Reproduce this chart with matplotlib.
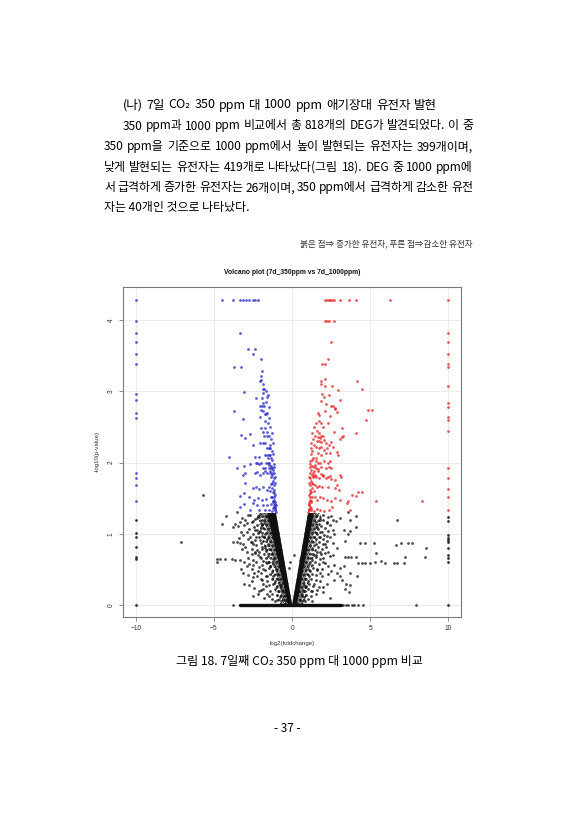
import numpy as np
import matplotlib
matplotlib.use('Agg')
import matplotlib.pyplot as plt

W, H = 571, 840
KR = ['Noto Sans CJK KR', 'DejaVu Sans']
AR = ['Liberation Sans', 'DejaVu Sans']

heading = "(나) 7일 CO₂ 350 ppm 대 1000 ppm 애기장대 유전자 발현"
body_lines = [
    "350 ppm과 1000 ppm 비교에서 총 818개의 DEG가 발견되었다. 이 중",
    "350 ppm을 기준으로 1000 ppm에서 높이 발현되는 유전자는 399개이며,",
    "낮게 발현되는 유전자는 419개로 나타났다(그림 18). DEG 중 1000 ppm에",
    "서 급격하게 증가한 유전자는 26개이며, 350 ppm에서 급격하게 감소한 유전",
    "자는 40개인 것으로 나타났다.",
]
legend_note = "붉은 점⇒ 증가한 유전자, 푸른 점⇒감소한 유전자"
caption = "그림 18. 7일째 CO₂ 350 ppm 대 1000 ppm 비교"
page_no = "- 37 -"

# significant, down (blue)
blue_x = [-4.5, -3.77, -3.34, -3.17, -2.95, -2.78, -2.53, -2.36, -2.19,
          -3.34, -2.85, -2.38, -2.51, -2.02, -3.70, -3.27, -1.93, -2.02, -1.98, -2.05,
          -1.85, -1.89, -1.80, -3.06, -1.85, -2.32, -1.93, -1.63, -1.85, -2.05, -1.93,
          -1.80, -3.72, -1.98, -1.85, -1.76, -1.68, -2.06, -3.17, -1.72, -1.98, -1.76,
          -1.89, -1.59, -3.27, -2.70, -3.0, -1.80, -1.63, -2.49, -2.08, -1.87, -1.72,
          -1.63, -1.51, -1.42, -4.06, -2.36, -2.15, -1.76, -1.63, -1.51, -1.42, -2.23,
          -1.98, -1.68, -1.55, -1.46, -3.55, -1.89, -1.72, -1.51, -1.38, -1.30, -3.04,
          -3.12, -1.63, -1.42, -1.30, -3.08, -2.70, -2.32, -2.11, -2.40, -2.28, -2.06,
          -1.89, -1.76, -3.0, -2.53, -2.32, -2.11, -1.85, -1.63, -1.47, -3.34, -3.08,
          -2.78, -2.45, -2.19, -1.94, -1.68, -1.38, -3.34, -3.08, -2.53, -2.28, -1.89,
          -1.59, -1.34, -1.17, -1.08, -2.70, -2.15, -1.72, -1.47, -1.30,
          -1.05, -1.08, -1.12, -1.15, -1.10, -1.20, -1.25, -1.13, -1.18, -1.09, -1.22,
          -1.14, -1.28, -1.17, -1.11, -1.24, -1.35, -1.19, -1.27, -1.15, -1.22, -1.33,
          -1.18, -1.26, -1.36, -1.21, -1.30, -1.40, -1.25, -1.34, -1.45, -1.30, -1.40,
          -1.52, -1.45, -1.58, -1.50, -1.65, -1.57, -1.70, -1.12, -1.16, -1.31, -1.41,
          -1.06, -1.20, -1.29, -1.38, -1.44, -1.48, -1.53, -1.12, -1.17]
blue_y = [4.29, 4.29, 4.29, 4.29, 4.29, 4.29, 4.29, 4.29, 4.29,
          3.82, 3.60, 3.60, 3.52, 3.45, 3.34, 3.34, 3.29, 3.22, 3.16, 3.15,
          3.10, 3.04, 3.04, 2.99, 2.98, 2.90, 2.90, 2.92, 2.84, 2.79, 2.79,
          2.79, 2.72, 2.74, 2.72, 2.68, 2.68, 2.64, 2.61, 2.58, 2.49, 2.49,
          2.43, 2.43, 2.39, 2.40, 2.34, 2.37, 2.37, 2.25, 2.28, 2.28, 2.28,
          2.20, 2.20, 2.20, 2.08, 2.08, 2.08, 2.10, 2.10, 2.10, 2.10, 2.0,
          2.0, 2.0, 2.0, 2.0, 1.92, 1.93, 1.93, 1.93, 1.93, 1.93, 1.86,
          1.83, 1.85, 1.85, 1.85, 1.95, 1.98, 1.99, 1.98, 1.85, 1.87, 1.83,
          1.86, 1.88, 1.71, 1.64, 1.66, 1.63, 1.65, 1.62, 1.66, 1.53, 1.57,
          1.52, 1.48, 1.50, 1.47, 1.49, 1.51, 1.38, 1.42, 1.43, 1.40, 1.40,
          1.41, 1.42, 1.40, 1.37, 1.34, 1.33, 1.33, 1.33, 1.32,
          1.31, 1.35, 1.33, 1.38, 1.42, 1.36, 1.45, 1.48, 1.52, 1.55, 1.58,
          1.62, 1.64, 1.68, 1.71, 1.74, 1.70, 1.78, 1.82, 1.86, 1.90, 1.95,
          1.98, 2.03, 2.07, 2.12, 2.16, 2.24, 2.27, 2.33, 2.38, 2.42, 2.50,
          2.55, 2.62, 2.70, 2.78, 2.85, 2.95, 3.0, 1.44, 1.57, 1.52, 1.60,
          1.40, 1.46, 1.72, 1.80, 1.88, 1.96, 2.06, 1.80, 1.94]

# significant, up (red)
red_x = [2.13, 2.23, 2.34, 2.45, 2.55, 2.66, 3.04, 3.64, 4.07, 6.23,
         2.13, 2.23, 2.34, 2.66, 2.47, 2.28, 1.94, 2.13, 2.09, 1.85, 1.85, 2.11,
         2.58, 2.94, 4.15, 4.47, 1.94, 2.04, 2.36, 1.87, 2.19, 3.06, 2.62, 2.72,
         2.51, 2.77, 2.11, 1.64, 1.72, 2.45, 2.90, 4.87, 5.12, 4.75, 1.72, 1.85,
         1.98, 2.30, 3.17, 1.60, 1.72, 1.85, 1.64, 1.77, 1.98, 2.70, 4.11, 1.60,
         1.72, 1.87, 2.02, 2.19, 2.36, 2.49, 3.04, 3.25, 3.17, 1.55, 1.72, 1.87,
         2.04, 2.21, 2.62, 1.68, 1.85, 2.15, 2.41, 2.87, 2.96, 1.51, 1.64, 1.81,
         2.02, 2.32, 2.45, 1.42, 1.55, 1.68, 1.85, 2.19, 2.36, 2.49, 1.38, 1.51,
         1.72, 1.98, 2.19, 2.41, 3.13, 3.04, 1.34, 1.45, 1.66, 1.83, 2.0, 2.30,
         2.51, 2.77, 1.45, 1.62, 1.74, 1.92, 2.30, 2.72, 2.98, 2.89, 4.11, 4.49,
         3.85, 4.21, 5.39, 1.43, 1.60, 1.77, 1.98, 2.23, 2.49, 2.74, 3.08, 3.59,
         3.51, 8.32, 1.23, 1.40, 1.57, 1.79, 2.04, 2.34, 2.55, 3.70,
         1.04, 1.07, 1.10, 1.14, 1.08, 1.18, 1.22, 1.11, 1.16, 1.06, 1.20, 1.12,
         1.26, 1.15, 1.09, 1.22, 1.32, 1.17, 1.25, 1.13, 1.20, 1.30, 1.16, 1.24,
         1.34, 1.19, 1.28, 1.38, 1.23, 1.32, 1.43, 1.28, 1.38, 1.50, 1.10, 1.14,
         1.29, 1.39, 1.05, 1.18, 1.27, 1.36, 1.42, 1.46, 1.51, 1.10, 1.15, 1.12,
         1.20]
red_y = [4.29, 4.29, 4.29, 4.29, 4.29, 4.29, 4.29, 4.29, 4.29, 4.29,
         3.99, 3.99, 3.99, 3.99, 3.69, 3.45, 3.39, 3.39, 3.17, 3.15, 3.11, 3.07,
         3.07, 3.02, 3.15, 3.03, 2.96, 2.92, 2.95, 2.86, 2.82, 2.88, 2.79, 2.77,
         2.80, 2.75, 2.73, 2.70, 2.67, 2.65, 2.71, 2.74, 2.74, 2.60, 2.59, 2.56,
         2.50, 2.56, 2.49, 2.45, 2.41, 2.38, 2.36, 2.34, 2.37, 2.43, 2.42, 2.31,
         2.30, 2.29, 2.32, 2.27, 2.25, 2.29, 2.33, 2.37, 2.36, 2.22, 2.20, 2.22,
         2.18, 2.20, 2.22, 2.13, 2.11, 2.13, 2.13, 2.15, 2.10, 2.02, 2.00, 1.99,
         2.02, 2.00, 2.02, 1.94, 1.93, 1.91, 1.94, 1.93, 1.94, 1.93, 1.81, 1.80,
         1.79, 1.81, 1.79, 1.81, 1.80, 1.83, 1.86, 1.83, 1.88, 1.84, 1.82, 1.80,
         1.77, 1.75, 1.68, 1.66, 1.67, 1.65, 1.66, 1.64, 1.62, 1.69, 1.53, 1.59,
         1.54, 1.59, 1.46, 1.51, 1.47, 1.52, 1.50, 1.47, 1.46, 1.50, 1.48, 1.46,
         1.43, 1.46, 1.33, 1.32, 1.35, 1.33, 1.32, 1.34, 1.38, 1.33,
         1.31, 1.35, 1.33, 1.38, 1.42, 1.36, 1.45, 1.48, 1.52, 1.55, 1.58, 1.62,
         1.64, 1.68, 1.71, 1.74, 1.70, 1.78, 1.82, 1.86, 1.90, 1.95, 1.98, 2.03,
         2.07, 2.12, 2.16, 2.24, 2.27, 2.33, 2.38, 2.42, 2.50, 2.55, 1.44, 1.57,
         1.52, 1.60, 1.40, 1.46, 1.72, 1.80, 1.88, 1.96, 2.06, 1.80, 1.94, 2.02,
         2.20]

# not significant, loose points away from the arms
grey_x = [6.70, 3.04, 3.70, 4.06, 3.60, 3.68, 4.06, 4.37, 4.64, 5.23, 6.66, 6.96,
          7.40, 7.66, 5.34, 3.36, 3.60, 3.30, 3.41, 3.60, 3.79, 4.07, 4.19, 4.45,
          4.66, 5.0, 5.28, 5.66, 5.92, 6.51, 6.73, 7.15, 7.20, 8.48, 8.58, 3.04,
          3.30, 3.72, 4.15, 3.45, 3.70, 3.38, 3.64, 3.04, 2.66, 2.85, 3.20, 2.4,
          2.6, 2.2, 2.8, 2.5, 2.1, 2.3, 2.6, 2.9, 2.0, 2.3, 2.5, 1.9, 2.2, 1.7,
          2.0, 1.6, 1.8, 1.7, 1.9, 1.55, 1.75, 1.6, 1.8, 1.4, 1.2, 1.5, 1.0, 2.4,
          0.8, 0.6, 1.3, 0.11, -0.15, 0.49, -0.19, 0.41,
          -5.68, -4.47, -7.12, -3.66, -3.45, -3.34, -3.77, -3.77, -3.55, -3.34,
          -3.17, -4.83, -4.79, -4.61, -4.30, -3.87, -3.66, -3.34, -3.08, -2.78,
          -2.49, -2.11, -1.85, -3.12, -2.81, -2.49, -2.28, -3.08, -2.78, -2.45,
          -2.15, -1.85, -1.63, -2.91, -2.60, -2.40, -2.19, -1.98, -3.12, -2.81,
          -2.60, -2.32, -2.06, -3.55, -3.23, -2.81, -2.53, -2.28, -1.98, -2.28,
          -4.2, -2.0, -1.8, -1.75, -1.9, -1.5, -1.3, -1.0, -2.5, -3.3, -2.9, -2.0,
          -1.6, -1.7, -1.9, -2.15, -1.8, -1.65, -0.5, -0.7, -0.3]
grey_y = [1.20, 1.22, 1.20, 1.25, 1.30, 1.04, 1.10, 0.87, 0.87, 0.87, 0.84, 0.87,
          0.87, 0.87, 0.73, 0.90, 1.0, 1.05, 0.67, 0.67, 0.67, 0.67, 0.59, 0.59,
          0.59, 0.59, 0.60, 0.62, 0.59, 0.59, 0.59, 0.59, 0.67, 0.67, 0.80, 0.52,
          0.55, 0.45, 0.40, 0.30, 0.28, 0.23, 0.18, 0.40, 0.35, 0.45, 0.35, 0.95,
          1.05, 1.15, 1.18, 1.25, 0.85, 0.75, 0.70, 0.80, 0.60, 0.55, 0.48, 0.40,
          0.30, 0.25, 0.18, 1.10, 1.20, 0.95, 1.02, 0.70, 0.75, 0.50, 0.45, 0.30,
          0.20, 0.15, 0.08, 0.10, 0.25, 0.15, 0.05, 0.70, 0.61, 0.63, 0.52, 0.27,
          1.54, 1.14, 0.89, 1.14, 1.11, 1.16, 1.10, 0.88, 0.88, 0.87,
          0.86, 0.61, 0.64, 0.64, 0.64, 0.64, 0.63, 0.63, 0.61, 0.58,
          0.56, 0.54, 0.51, 0.45, 0.42, 0.39, 0.41, 0.30, 0.28, 0.24,
          0.20, 0.22, 0.16, 0.75, 0.72, 0.74, 0.70, 0.66, 0.98, 0.93,
          0.89, 0.96, 0.91, 1.30, 1.22, 1.27, 1.18, 1.22, 1.10, 1.05,
          1.25, 1.28, 0.95, 0.80, 0.35, 0.28, 0.15, 0.07, 0.12, 0.50, 0.55, 0.45,
          0.40, 0.60, 0.78, 1.02, 1.15, 1.25, 0.18, 0.28, 0.05]

# not significant, packed along the outer side of each arm
speck_x = [-2.1, -2.4, -2.7, -1.95, -2.0, -2.25, -2.55, -3.0, -1.85, -2.05, -2.45,
           -2.75, -3.1, -1.75, -1.95, -2.2, -2.5, -2.9, -1.6, -1.85, -2.1, -2.4,
           -2.7, -3.4, -1.55, -1.75, -2.0, -2.3, -2.5, -1.45, -1.65, -1.95, -2.25,
           -2.6, -3.0, -1.35, -1.55, -1.8, -2.05, -2.35, -1.25, -1.45, -1.7, -2.5,
           -1.2, -1.4, -1.6, -1.95, -2.3, -1.05, -1.3, -1.5, -1.75, -2.2, -2.6,
           -1.0, -1.2, -1.4, -1.7, -0.9, -1.1, -1.3, -1.6, -2.0, -2.6, -0.8, -1.0,
           -1.2, -1.7, -0.65, -0.9, -1.1, -1.4, -2.0, -0.55, -0.8, -1.0, -1.5,
           -1.8, -0.45, -0.7, -1.1, -2.15, -1.9, -2.35, -2.65, -2.15, -1.85, -2.45,
           -1.85, -1.3, -2.2, -2.8, -3.2, -2.9, -3.3,
           1.6, 1.8, 2.0, 2.3, 1.55, 1.7, 1.95, 2.2, 2.6, 1.5, 1.65, 1.85, 2.1,
           2.45, 1.45, 1.6, 1.8, 2.05, 2.3, 2.7, 1.4, 1.55, 1.75, 2.0, 2.25, 1.35,
           1.5, 1.7, 1.95, 2.2, 2.6, 1.3, 1.45, 1.65, 1.9, 2.15, 1.25, 1.4, 1.6,
           1.85, 2.1, 2.4, 1.15, 1.3, 1.5, 1.75, 2.0, 1.1, 1.25, 1.45, 1.7, 2.1,
           2.7, 1.0, 1.15, 1.35, 1.6, 1.9, 0.95, 1.1, 1.3, 1.55, 2.3, 0.85, 1.0,
           1.2, 1.5, 1.75, 0.75, 0.9, 1.1, 1.35, 2.0, 0.7, 0.85, 1.0, 1.25, 1.6,
           0.6, 0.75, 0.9, 1.2, 0.5, 0.65, 0.85]
speck_y = [1.26, 1.21, 1.27, 1.19, 1.15, 1.12, 1.17, 1.20, 1.08, 1.04, 1.09,
           1.06, 1.12, 1.00, 0.97, 1.01, 0.99, 1.03, 0.93, 0.90, 0.95, 0.91,
           0.96, 0.94, 0.86, 0.83, 0.87, 0.84, 0.86, 0.79, 0.76, 0.81, 0.77,
           0.79, 0.82, 0.71, 0.69, 0.72, 0.68, 0.73, 0.64, 0.61, 0.66, 0.63,
           0.57, 0.55, 0.59, 0.56, 0.60, 0.50, 0.47, 0.52, 0.49, 0.48, 0.51,
           0.43, 0.40, 0.44, 0.41, 0.36, 0.33, 0.37, 0.34, 0.36, 0.33, 0.28, 0.26,
           0.29, 0.26, 0.21, 0.19, 0.22, 0.19, 0.21, 0.13, 0.11, 0.14, 0.12,
           0.10, 0.07, 0.05, 0.06, 1.24, 1.13, 1.05, 0.88, 0.74, 0.62, 0.45,
           0.30, 0.09, 0.15, 0.66, 0.78, 1.15, 1.03,
           1.26, 1.22, 1.27, 1.23, 1.17, 1.14, 1.19, 1.16, 1.20, 1.10, 1.07, 1.11, 1.08,
           1.12, 1.03, 0.99, 1.02, 0.98, 1.04, 1.00, 0.95, 0.92, 0.96, 0.93, 0.97, 0.88,
           0.85, 0.89, 0.86, 0.90, 0.87, 0.80, 0.77, 0.81, 0.78, 0.82, 0.72, 0.70, 0.74,
           0.71, 0.73, 0.69, 0.66, 0.63, 0.67, 0.64, 0.66, 0.58, 0.56, 0.60, 0.57, 0.59,
           0.56, 0.51, 0.48, 0.52, 0.49, 0.50, 0.43, 0.41, 0.44, 0.42, 0.43, 0.36, 0.34,
           0.37, 0.35, 0.33, 0.28, 0.26, 0.29, 0.27, 0.25, 0.21, 0.19, 0.22, 0.20, 0.21,
           0.13, 0.11, 0.14, 0.12, 0.07, 0.05, 0.06]

# genes clipped at log2FC = -10 / +10
left_col_y = [4.29, 3.99, 3.82, 3.69, 3.52, 3.39, 2.97, 2.88, 2.69, 2.62, 1.85,
              1.79, 1.68, 1.46, 1.19, 1.01, 0.96, 0.82, 0.68, 0.65, 0.0]
right_col_y = [4.29, 3.82, 3.69, 3.52, 3.39, 3.34, 3.07, 2.83, 2.78, 2.64, 2.60,
               2.45, 1.93, 1.79, 1.63, 1.51, 1.33, 1.24, 1.18, 0.98, 0.94, 0.91,
               0.89, 0.80, 0.70, 0.66, 0.61, 0.0]

# p = 1 row (y = 0): dense span plus loose points
zero_span = [-3.34, 3.1]
zero_x = [-3.77, 3.25, 3.45, 3.6, 3.8, 3.95, 4.2, 4.5, 7.9]

# dense core of each arm: inner edge fixed, outer edge (at top / at y=0) per density layer
inner_left_top, inner_right_top, core_top = -1.04, 1.02, 1.29
left_outer_top = [-2.3, -1.9, -1.6]
left_outer_bot = [-0.85, -0.55, -0.25]
right_outer_top = [1.9, 1.62, 1.38]
right_outer_bot = [0.8, 0.55, 0.3]
layer_hatch = ['....', '.......', None]

BLUE = '#2626c8'
RED = '#e02424'
BLK = '#111111'

plt.rcParams['hatch.linewidth'] = 1.3
plt.rcParams['hatch.color'] = BLK

fig = plt.figure(figsize=(W / 100, H / 100), dpi=100)
fig.patch.set_facecolor('white')


def fx(px):
    return px / W


def fy(py):
    return 1 - py / H


# ---- page text ----
renderer = fig.canvas.get_renderer()
TXT = dict(family=KR, va='center', color='black', fontweight='medium')


def justified(line, x0, x1, y, fs):
    words = line.split(' ')
    arts, widths = [], []
    for w in words:
        t = fig.text(0, fy(y), w, fontsize=fs, ha='left', **TXT)
        arts.append(t)
        widths.append(t.get_window_extent(renderer).width)
    gap = (x1 - x0 - sum(widths)) / (len(words) - 1)
    x = x0
    for t, wd in zip(arts, widths):
        t.set_x(fx(x))
        x += wd + gap


FS = 8.6
justified(heading, 123, 437, 105, 9.0)
justified(body_lines[0], 123, 473, 126, FS)
for i, ln in enumerate(body_lines[1:4]):
    justified(ln, 104, 473, 146.7 + 20.5 * i, FS)
fig.text(fx(104), fy(207.5), body_lines[4], fontsize=FS, ha='left', **TXT)

fig.text(fx(473), fy(244), legend_note, family=KR, fontsize=6.2, va='center', ha='right', color='#333333')
fig.text(fx(299.5), fy(661), caption, fontsize=8.7, ha='center', **TXT)
fig.text(fx(287), fy(728), page_no, fontsize=8.6, ha='center', **TXT)

# ---- volcano plot ----
ax = fig.add_axes([fx(123.3), fy(617), fx(461) - fx(123.3), fy(287) - fy(617)])
ax.set_xlim(-10.8, 10.8)
ax.set_ylim(-0.169, 4.466)

for lt, lb, rt, rb, hat in zip(left_outer_top, left_outer_bot, right_outer_top,
                               right_outer_bot, layer_hatch):
    style = dict(lw=0, zorder=2)
    if hat:
        style.update(facecolor='none', edgecolor=BLK, hatch=hat)
    else:
        style.update(facecolor=BLK)
    ax.fill([0, inner_left_top, lt, lb], [0, core_top, core_top, 0], **style)
    ax.fill([0, inner_right_top, rt, rb], [0, core_top, core_top, 0], **style)
ax.plot(zero_span, [0, 0], color=BLK, lw=2.4, solid_capstyle='round', zorder=2)

mk = dict(marker='o', linestyle='none', markersize=2.0, markeredgewidth=0, zorder=3)
ax.plot(speck_x, speck_y, color=BLK, alpha=0.8, **mk)
ax.plot(grey_x, grey_y, color=BLK, alpha=0.75, **mk)
ax.plot(zero_x, [0] * len(zero_x), color=BLK, alpha=0.75, **mk)
ax.plot(blue_x, blue_y, color=BLUE, alpha=0.75, **mk)
ax.plot(red_x, red_y, color=RED, alpha=0.75, **mk)

for xc, ys in ((-10, left_col_y), (10, right_col_y)):
    ys = np.array(ys)
    sig = ys >= 1.3
    ax.plot(np.full(sig.sum(), xc), ys[sig], color=BLUE if xc < 0 else RED, alpha=0.75, **mk)
    ax.plot(np.full((~sig).sum(), xc), ys[~sig], color=BLK, alpha=0.85, **mk)

ax.set_xticks([-10, -5, 0, 5, 10])
ax.set_yticks([0, 1, 2, 3, 4])
ax.grid(True, color='#e9e9e9', lw=0.6)
ax.set_axisbelow(True)
for s in ax.spines.values():
    s.set_color('#7a7a7a')
    s.set_linewidth(0.8)
ax.tick_params(length=3, width=0.6, color='#7a7a7a', labelsize=4.8, labelcolor='#333333', pad=3)
for lb in ax.get_yticklabels():
    lb.set_rotation(90)
    lb.set_va('center')
    lb.set_family(AR)
for lb in ax.get_xticklabels():
    lb.set_family(AR)

ax.set_title('Volcano plot (7d_350ppm vs 7d_1000ppm)', family=AR, fontsize=4.85,
             fontweight='bold', color='#111111', pad=9.5)
ax.set_xlabel('log2(foldchange)', family=AR, fontsize=4.4, color='#333333', labelpad=6)
ax.set_ylabel('-log10(p-value)', family=AR, fontsize=4.4, color='#333333', labelpad=6)

fig.savefig('out.png', dpi=100, facecolor='white')
